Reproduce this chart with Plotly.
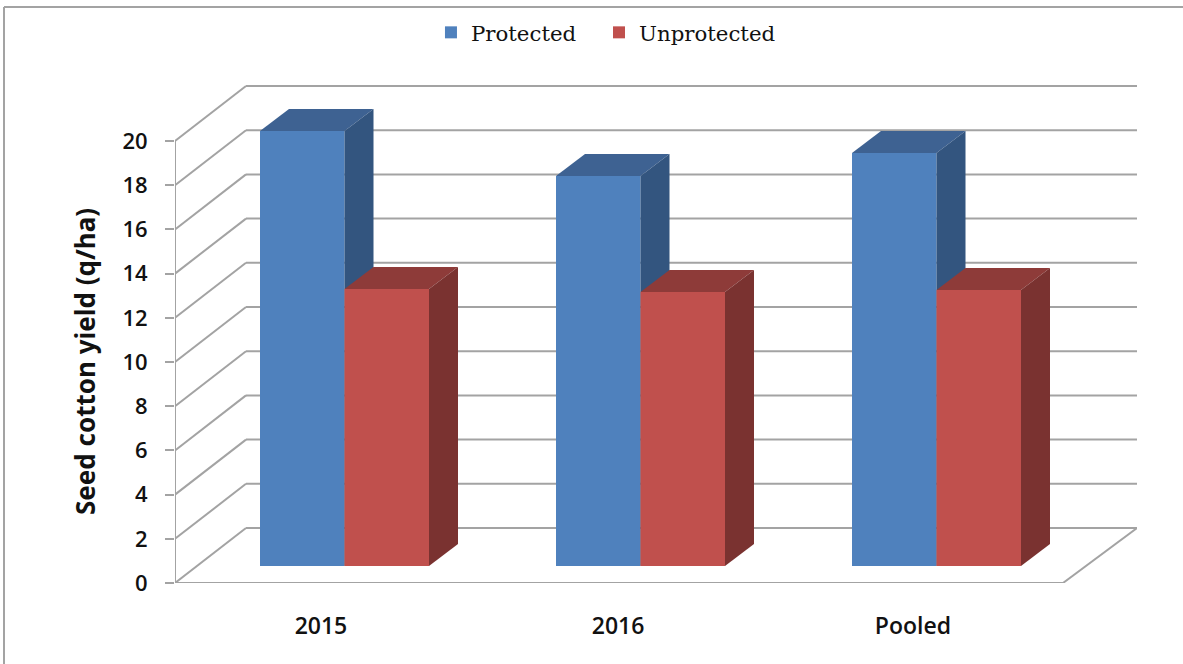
import plotly.graph_objects as go

# ---- data ----
categories = ["2015", "2016", "Pooled"]
protected = [19.68, 17.65, 18.69]
unprotected = [12.53, 12.4, 12.49]
y_ticks = list(range(0, 21, 2))
label_positions = [0.493, 1.497, 2.493]
y_title = "Seed cotton yield (q/ha)"

# ---- style / geometry ----
W, H = 1183, 664
BLUE, BLUE_TOP, BLUE_SIDE = "#4F81BD", "#3E6292", "#33557F"
RED, RED_TOP, RED_SIDE = "#C0504D", "#8E3B39", "#7A3230"
GRID = "#A3A3A3"
X_LEFT, X_RIGHT, Y_ZERO, Y_TOP = 175, 1137, 583, 85
PX_X = 296.0   # px per category
PX_Y = 22.1    # px per y unit
WALL_DX, WALL_DY = 71 / PX_X, 55 / PX_Y
BAR_W = 84.5 / PX_X
BAR_DX, BAR_DY = 29 / PX_X, 22 / PX_Y
BASE = 17 / PX_Y
XR = (X_RIGHT - X_LEFT) / PX_X
YR = (Y_ZERO - Y_TOP) / PX_Y


def grid_shapes():
    out = []
    def seg(x0, y0, x1, y1):
        out.append(dict(type="line", xref="x", yref="y", x0=x0, y0=y0, x1=x1, y1=y1,
                        layer="below", line=dict(color=GRID, width=2)))
    for t in y_ticks:
        seg(0, t, WALL_DX, t + WALL_DY)
        seg(WALL_DX, t + WALL_DY, XR, t + WALL_DY)
    seg(0, 0, 0, y_ticks[-1])
    seg(0, 0, len(categories), 0)
    seg(len(categories), 0, XR, WALL_DY)
    # outer frame of the chart
    for x0, y0, x1, y1 in [(4, 7, W, 7), (4, 7, 4, H)]:
        out.append(dict(type="line", xref="paper", yref="paper", x0=x0 / W, x1=x1 / W,
                        y0=1 - y0 / H, y1=1 - y1 / H, layer="below",
                        line=dict(color=GRID, width=2)))
    return out


def faces(values, left_of_cat, top_col, side_col, xa, ya):
    traces = []
    for i, v in enumerate(values):
        x0 = i + left_of_cat
        x1 = x0 + BAR_W
        top = BASE + v
        traces.append(go.Scatter(
            x=[x0, x0 + BAR_DX, x1 + BAR_DX, x1, x0],
            y=[top, top + BAR_DY, top + BAR_DY, top, top],
            fill="toself", fillcolor=top_col, mode="none", showlegend=False,
            hoverinfo="skip", xaxis=xa, yaxis=ya))
        traces.append(go.Scatter(
            x=[x1, x1 + BAR_DX, x1 + BAR_DX, x1, x1],
            y=[BASE, BASE + BAR_DY, top + BAR_DY, top, BASE],
            fill="toself", fillcolor=side_col, mode="none", showlegend=False,
            hoverinfo="skip", xaxis=xa, yaxis=ya))
    return traces


left_p = (260 - 175) / PX_X
left_u = left_p + BAR_W
fig = go.Figure()
fig.add_trace(go.Bar(x=[i + left_p + BAR_W / 2 for i in range(3)], y=protected, base=BASE,
                     width=BAR_W, name="Protected\u00a0\u00a0\u202f",
                     marker=dict(color=BLUE, line_width=0), xaxis="x", yaxis="y"))
for tr in faces(protected, left_p, BLUE_TOP, BLUE_SIDE, "x", "y"):
    fig.add_trace(tr)
fig.add_trace(go.Bar(x=[i + left_u + BAR_W / 2 for i in range(3)], y=unprotected, base=BASE,
                     width=BAR_W, name="Unprotected", marker=dict(color=RED, line_width=0),
                     xaxis="x2", yaxis="y2"))
for tr in faces(unprotected, left_u, RED_TOP, RED_SIDE, "x2", "y2"):
    fig.add_trace(tr)

dom_x = [X_LEFT / W, X_RIGHT / W]
dom_y = [1 - Y_ZERO / H, 1 - Y_TOP / H]
fig.update_layout(
    width=W, height=H, margin=dict(l=0, r=0, t=0, b=0),
    paper_bgcolor="white", plot_bgcolor="rgba(0,0,0,0)",
    barmode="overlay", shapes=grid_shapes(),
    legend=dict(orientation="h", x=0.3643, y=1 - 53 / H, xanchor="left", yanchor="bottom",
                font=dict(family="DejaVu Serif", size=21.3, color="#111111"),
                bgcolor="rgba(0,0,0,0)", traceorder="normal"),
    xaxis=dict(domain=dom_x, range=[0, XR], tickvals=label_positions, ticktext=categories,
               ticks="outside", ticklen=22, tickcolor="rgba(0,0,0,0)", showgrid=False,
               zeroline=False, showline=False, automargin=False,
               tickfont=dict(family="Open Sans", size=23, color="#111111", weight=600)),
    yaxis=dict(domain=dom_y, range=[0, YR], tickvals=y_ticks, ticks="outside", ticklen=9,
               tickwidth=2, tickcolor=GRID, showgrid=False, zeroline=False, showline=False,
               ticklabelstandoff=13, automargin=False,
               tickfont=dict(family="Open Sans", size=22, color="#111111", weight=600)),
    xaxis2=dict(domain=dom_x, range=[0, XR], overlaying="x", anchor="y2", visible=False,
                automargin=False),
    yaxis2=dict(domain=dom_y, range=[0, YR], overlaying="y", anchor="x2", visible=False,
                automargin=False),
    annotations=[dict(text=f"<b>{y_title}</b>", xref="paper", yref="paper", x=85 / W,
                      y=1 - 362 / H, textangle=-90, showarrow=False,
                      xanchor="center", yanchor="middle",
                      font=dict(family="Noto Sans", size=26, color="#111111"))],
)
fig.write_html("out.html", config=dict(displayModeBar=False),
               post_script="document.body.style.margin='0';")
